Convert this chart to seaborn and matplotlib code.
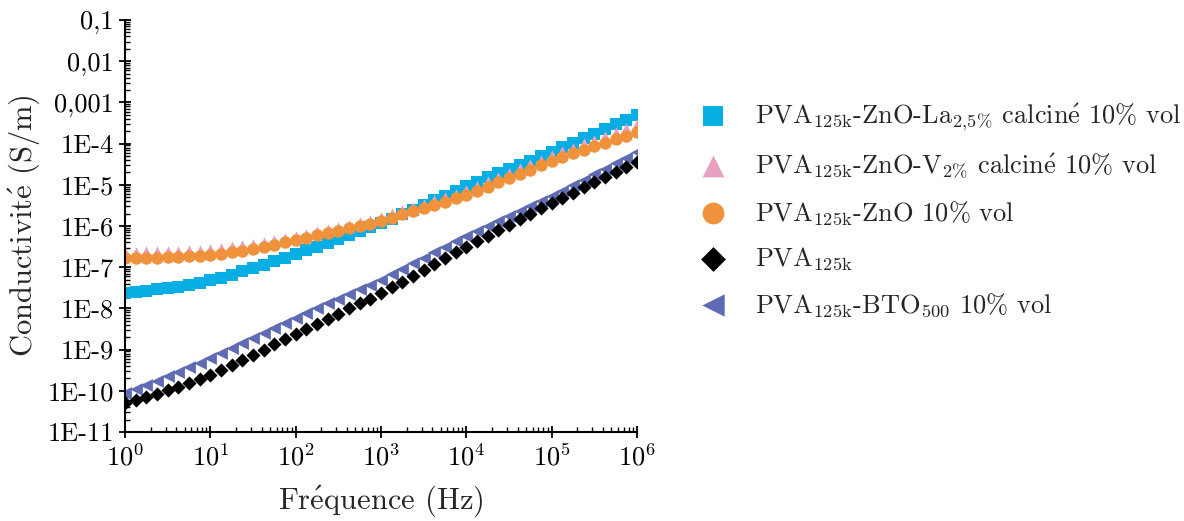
import numpy as np
import pandas as pd
import matplotlib
matplotlib.use("Agg")
import matplotlib.pyplot as plt
import matplotlib.ticker as mticker
import seaborn as sns

# frequency grid: 8 points per decade, 1 Hz -> 1 MHz
freq = np.logspace(0, 6, 49)

# log10 of conductivity (S/m)
log_la = [-7.63, -7.60, -7.57, -7.54, -7.51, -7.47, -7.43, -7.38, -7.32,
          -7.25, -7.18, -7.10, -7.02, -6.94, -6.85, -6.77, -6.68,
          -6.59, -6.50, -6.41, -6.32, -6.22, -6.13, -6.03, -5.93,
          -5.82, -5.71, -5.60, -5.49, -5.37, -5.26, -5.14, -5.02,
          -4.92, -4.82, -4.72, -4.62, -4.52, -4.41, -4.31, -4.20,
          -4.09, -3.98, -3.87, -3.76, -3.65, -3.53, -3.42, -3.30]
log_v = [-6.65, -6.65, -6.64, -6.64, -6.63, -6.62, -6.61, -6.60, -6.58,
         -6.55, -6.52, -6.49, -6.45, -6.41, -6.36, -6.31, -6.26,
         -6.21, -6.15, -6.10, -6.04, -5.99, -5.93, -5.87, -5.80,
         -5.72, -5.64, -5.56, -5.48, -5.40, -5.32, -5.24, -5.15,
         -5.05, -4.94, -4.84, -4.73, -4.62, -4.52, -4.41, -4.30,
         -4.21, -4.12, -4.02, -3.93, -3.84, -3.74, -3.65, -3.55]
log_zno = [-6.78, -6.78, -6.77, -6.77, -6.76, -6.75, -6.74, -6.72, -6.70,
           -6.67, -6.64, -6.60, -6.56, -6.51, -6.46, -6.40, -6.34,
           -6.28, -6.22, -6.17, -6.11, -6.06, -6.00, -5.94, -5.88,
           -5.80, -5.72, -5.64, -5.56, -5.48, -5.41, -5.33, -5.25,
           -5.15, -5.05, -4.94, -4.84, -4.73, -4.63, -4.52, -4.42,
           -4.33, -4.24, -4.15, -4.07, -3.98, -3.89, -3.81, -3.72]
log_pva = [-10.30, -10.23, -10.15, -10.07, -9.99, -9.90, -9.81, -9.72, -9.62,
           -9.50, -9.38, -9.25, -9.12, -9.00, -8.87, -8.74, -8.62,
           -8.50, -8.38, -8.25, -8.13, -8.00, -7.88, -7.76, -7.63,
           -7.49, -7.35, -7.21, -7.07, -6.92, -6.78, -6.64, -6.50,
           -6.37, -6.24, -6.10, -5.97, -5.84, -5.70, -5.57, -5.44,
           -5.31, -5.19, -5.06, -4.94, -4.82, -4.70, -4.57, -4.45]
log_bto = [-10.05, -9.96, -9.86, -9.76, -9.65, -9.54, -9.43, -9.32, -9.20,
           -9.08, -8.96, -8.84, -8.72, -8.59, -8.47, -8.35, -8.23,
           -8.11, -7.99, -7.88, -7.76, -7.65, -7.53, -7.42, -7.30,
           -7.17, -7.04, -6.90, -6.77, -6.64, -6.51, -6.37, -6.24,
           -6.12, -6.00, -5.88, -5.76, -5.64, -5.52, -5.40, -5.28,
           -5.15, -5.01, -4.88, -4.74, -4.61, -4.47, -4.34, -4.20]

E_ACUTE = r"$\mathrm{\acute{e}}$"
labels = [
    r"PVA$_{\mathrm{125k}}$-ZnO-La$_{\mathrm{2{,}5\%}}$ calcin" + E_ACUTE + " 10% vol",
    r"PVA$_{\mathrm{125k}}$-ZnO-V$_{\mathrm{2\%}}$ calcin" + E_ACUTE + " 10% vol",
    r"PVA$_{\mathrm{125k}}$-ZnO 10% vol",
    r"PVA$_{\mathrm{125k}}$",
    r"PVA$_{\mathrm{125k}}$-BTO$_{\mathrm{500}}$ 10% vol",
]
y_ticks = [1e-11, 1e-10, 1e-9, 1e-8, 1e-7, 1e-6, 1e-5, 1e-4, 1e-3, 1e-2, 1e-1]
y_tick_labels = ["1E-11", "1E-10", "1E-9", "1E-8", "1E-7", "1E-6", "1E-5",
                 "1E-4", "0,001", "0,01", "0,1"]

sns.set_style("ticks")
plt.rcParams["font.family"] = ["cmr10", "DejaVu Serif"]
plt.rcParams["mathtext.fontset"] = "cm"
plt.rcParams["axes.unicode_minus"] = False
plt.rcParams["axes.formatter.use_mathtext"] = True

fig = plt.figure(figsize=(11.84, 5.21), dpi=100)
ax = fig.add_axes([0.1056, 0.1708, 0.4324, 0.7908])

# (log values, marker, size, colour, label index) in drawing order
series = [
    (log_la, "s", 70, "#06AEE4", 0),
    (log_v, "^", 80, "#E9A1C2", 1),
    (log_zno, "o", 80, "#F0913B", 2),
    (log_bto, "<", 85, "#5F6CB4", 4),
    (log_pva, "D", 52, "#000000", 3),
]
handles = {}
for vals, mk, size, col, li in series:
    df = pd.DataFrame({"f": freq, "sigma": 10 ** np.array(vals)})
    sns.scatterplot(data=df, x="f", y="sigma", marker=mk, s=size, color=col,
                    linewidth=0, ax=ax, label=labels[li], legend=False)
    handles[li] = ax.collections[-1]

ax.set_xscale("log")
ax.set_yscale("log")
ax.set_xlim(1, 1e6)
ax.set_ylim(1e-11, 1e-1)
ax.set_yticks(y_ticks)
ax.set_yticklabels(y_tick_labels)
ax.xaxis.set_minor_locator(mticker.LogLocator(base=10, subs=np.arange(2, 10), numticks=20))
ax.yaxis.set_minor_locator(mticker.LogLocator(base=10, subs=np.arange(2, 10), numticks=20))
ax.yaxis.set_minor_formatter(mticker.NullFormatter())
ax.xaxis.set_minor_formatter(mticker.NullFormatter())

sns.despine(ax=ax)
for sp in ["left", "bottom"]:
    ax.spines[sp].set_linewidth(1.5)
    ax.spines[sp].set_color("black")
ax.tick_params(which="major", direction="inout", length=8, width=1.3,
               labelsize=19, colors="black", pad=4)
ax.tick_params(which="minor", direction="in", length=3.5, width=1.0, colors="black")

ax.set_xlabel("Fr" + E_ACUTE + "quence (Hz)", fontsize=22, labelpad=10)
ax.set_ylabel("Conductivit" + E_ACUTE + " (S/m)", fontsize=22, labelpad=4)

order = [0, 1, 2, 3, 4]
leg = ax.legend([handles[i] for i in order], [labels[i] for i in order],
                loc="upper left", bbox_to_anchor=(0.5655, 0.852),
                bbox_transform=fig.transFigure, frameon=False,
                fontsize=19, markerscale=1.75, handletextpad=0.85,
                labelspacing=0.71, handlelength=1.5)

fig.savefig("out.png", dpi=100)
